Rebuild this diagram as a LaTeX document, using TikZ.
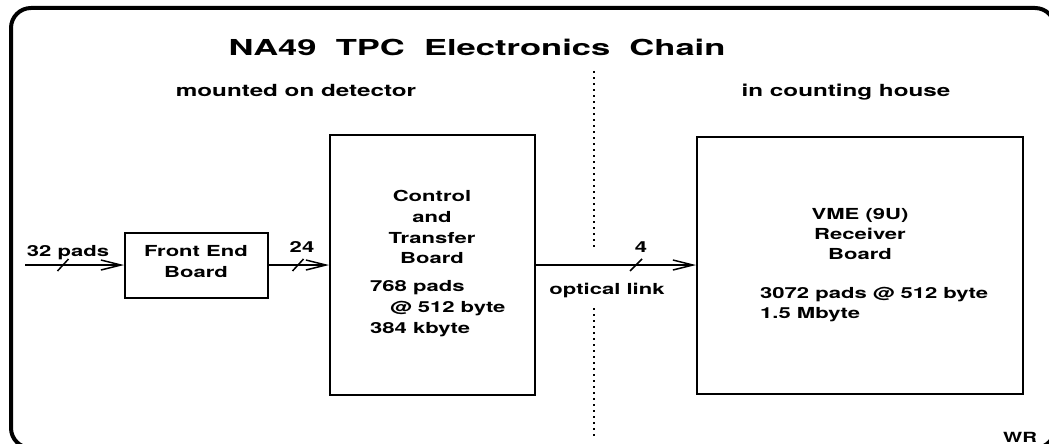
\documentclass[tikz,border=0pt]{standalone}
\usepackage{fontspec}
\newfontfamily\lbl{TeX Gyre Heros}[FakeStretch=1.45]
\newfontfamily\ttl{TeX Gyre Heros}[FakeStretch=1.57]
\usetikzlibrary{arrows.meta}
\begin{document}
\begin{tikzpicture}[x=1pt,y=-1pt,
  box/.style={draw,line width=2pt,inner sep=0pt},
  txt/.style={inner sep=0pt,font=\lbl\bfseries\fontsize{15.2}{18}\selectfont},
  hdr/.style={inner sep=0pt,font=\lbl\bfseries\fontsize{16.7}{20}\selectfont},
  ttlstyle/.style={inner sep=0pt,font=\ttl\bfseries\fontsize{22}{26}\selectfont},
  conn/.style={line width=1.5pt,-{Straight Barb[length=20pt,width=10pt,line width=1.5pt]}},
  slash/.style={line width=1.5pt},
  divider/.style={line width=2pt,dash pattern=on 2pt off 4pt}
]
\useasboundingbox (0,0) rectangle (1049,444);
\fill[white] (0,0) rectangle (1049,444);
% frame
\draw[line width=4pt,rounded corners=20pt] (11,8) rectangle (1055,448);
% title and headers
\node[ttlstyle,anchor=base] (title) at (477,56) {NA49~~TPC~~Electronics~~Chain};
\node[hdr,anchor=base] (hdrL) at (296,96) {mounted on detector};
\node[hdr,anchor=base] (hdrR) at (846,96) {in counting house};
% divider
\draw[divider] (594,71) -- (594,249);
\draw[divider] (594,308) -- (594,438);
% boxes
\node[box,minimum width=143pt,minimum height=65pt] (feb) at (196.5,265) {};
\node[box,minimum width=205pt,minimum height=260pt] (ctb) at (432.5,265) {};
\node[box,minimum width=326pt,minimum height=257pt] (vme) at (860,265) {};
% box texts
\node[txt,anchor=base] (feb1) at (196,256) {Front End};
\node[txt,anchor=base] (feb2) at (196,277) {Board};
\node[txt,anchor=base] (ctb1) at (432,201) {Control};
\node[txt,anchor=base] (ctb2) at (432,222) {and};
\node[txt,anchor=base] (ctb3) at (432,243) {Transfer};
\node[txt,anchor=base] (ctb4) at (432,263) {Board};
\node[txt,anchor=base west] (ctb5) at (370,291) {768 pads};
\node[txt,anchor=base west] (ctb6) at (390,312) {@ 512 byte};
\node[txt,anchor=base west] (ctb7) at (370,333) {384 kbyte};
\node[txt,anchor=base] (vme1) at (860,219) {VME (9U)};
\node[txt,anchor=base] (vme2) at (860,239) {Receiver};
\node[txt,anchor=base] (vme3) at (860,259) {Board};
\node[txt,anchor=base west] (vme4) at (760,298) {3072 pads @ 512 byte};
\node[txt,anchor=base west] (vme5) at (760,318) {1.5 Mbyte};
% connectors
\coordinate (in) at (25,265);
\draw[conn] (in) -- (feb.west);
\draw[conn] (feb.east) -- (ctb.west);
\draw[conn] (ctb.east) -- (vme.west);
% slashes
\coordinate (s1) at (63,265);
\coordinate (s2) at (298,265);
\coordinate (s3) at (636,265);
\draw[slash] (s1) ++(-5.5,6) -- ++(11,-12);
\draw[slash] (s2) ++(-5.5,6) -- ++(11,-12);
\draw[slash] (s3) ++(-6,6) -- ++(12,-12);
% connector labels
\node[txt,anchor=base] (l1) at (68,256) {32 pads};
\node[txt,anchor=base] (l2) at (302,252) {24};
\node[txt,anchor=base] (l3) at (641,252) {4};
\node[txt,anchor=base] (l4) at (607,294) {optical link};
\node[txt,anchor=base,font=\lbl\bfseries\fontsize{14}{16}\selectfont] (wr) at (1020,442) {WR};
\end{tikzpicture}
\end{document}
